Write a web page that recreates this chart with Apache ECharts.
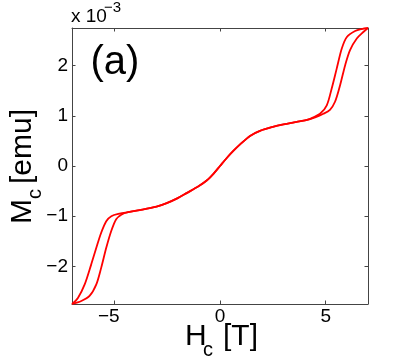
<!DOCTYPE html>
<html>
<head>
<meta charset="utf-8">
<script src="https://cdn.jsdelivr.net/npm/echarts@6/dist/echarts.min.js"></script>
<style>
  html, body { margin: 0; padding: 0; background: #fff; }
  #chart { width: 407px; height: 362px; }
</style>
</head>
<body>
<div id="chart"></div>
<script>
// upper branch (field sweeping down), values in units of 1e-3 emu
const upperH = [-7.0, -6.72, -6.40, -6.09, -5.85, -5.62, -5.38, -5.14, -4.75, -4.35, -3.80, -3.00, -2.52, -2.00, -1.58, -1.00, -0.63, -0.30, 0.00, 0.30, 0.63, 1.00, 1.42, 1.89, 2.50, 3.00, 3.50, 4.02, 4.26, 4.73, 5.05, 5.28, 5.52, 5.76, 6.00, 6.39, 6.70, 7.0]
const upperM = [-2.75, -2.63, -2.36, -1.96, -1.63, -1.33, -1.10, -1.00, -0.95, -0.92, -0.88, -0.81, -0.74, -0.64, -0.54, -0.40, -0.29, -0.15, 0.00, 0.15, 0.30, 0.45, 0.60, 0.70, 0.78, 0.83, 0.87, 0.91, 0.94, 1.04, 1.21, 1.54, 1.94, 2.34, 2.57, 2.69, 2.73, 2.75]
// lower branch (field sweeping up)
const lowerH = [-7.0, -6.56, -6.17, -5.85, -5.62, -5.38, -5.14, -4.91, -4.67, -4.35, -3.80, -3.00, -2.52, -2.00, -1.58, -1.00, -0.63, -0.30, 0.00, 0.30, 0.63, 1.00, 1.42, 1.89, 2.50, 3.00, 3.50, 4.02, 4.50, 4.89, 5.20, 5.44, 5.68, 5.92, 6.15, 6.47, 6.78, 7.0]
const lowerM = [-2.75, -2.69, -2.59, -2.36, -2.03, -1.63, -1.29, -1.06, -0.97, -0.92, -0.88, -0.81, -0.74, -0.64, -0.54, -0.40, -0.29, -0.15, 0.00, 0.15, 0.30, 0.45, 0.60, 0.70, 0.78, 0.83, 0.87, 0.91, 0.97, 1.04, 1.12, 1.28, 1.61, 2.01, 2.31, 2.54, 2.67, 2.75]

const xTicks = [-5, 0, 5]
const yTicks = [-2, -1, 0, 1, 2]

const FONT = 'Liberation Sans'
const axisColor = '#444'

function pairs(xs, ys) {
  return xs.map((x, i) => [x, ys[i]])
}

function axisBase(min, max, ticks) {
  return {
    type: 'value',
    min: min,
    max: max,
    axisLine: { show: true, onZero: false, lineStyle: { color: axisColor, width: 1 } },
    axisTick: { show: true, inside: true, length: 3.5, customValues: ticks, lineStyle: { color: axisColor } },
    splitLine: { show: false }
  }
}

const chart = echarts.init(document.getElementById('chart'))

const xBottom = axisBase(-7, 7, xTicks)
xBottom.position = 'bottom'
xBottom.axisLabel = {
  customValues: xTicks,
  margin: 3,
  color: '#000',
  fontFamily: FONT,
  fontSize: 19,
  // minus hangs to the left like matlab does
  formatter: v => v < 0 ? '\u2212' + (-v) + '{p|}' : String(v),
  rich: { p: { width: 11 } }
}
const xTop = axisBase(-7, 7, xTicks)
xTop.position = 'top'
xTop.axisLabel = { show: false }

const yLeft = axisBase(-2.75, 2.75, yTicks)
yLeft.position = 'left'
yLeft.axisLabel = {
  customValues: yTicks,
  margin: 4,
  color: '#000',
  fontFamily: FONT,
  fontSize: 19,
  formatter: v => String(v).replace('-', '\u2212')
}
const yRight = axisBase(-2.75, 2.75, yTicks)
yRight.position = 'right'
yRight.axisLabel = { show: false }

function txt(text, x, y, size, extra) {
  return Object.assign({
    type: 'text',
    x: x,
    y: y,
    silent: true,
    style: {
      text: text,
      fill: '#000',
      font: size + 'px "' + FONT + '"',
      align: 'left',
      verticalAlign: 'middle'
    }
  }, extra || {})
}

const lineStyle = { color: '#ff0000', width: 1.8 }

chart.setOption({
  animation: false,
  grid: { left: 72, right: 39, top: 28, bottom: 58, containLabel: false },
  xAxis: [xBottom, xTop],
  yAxis: [yLeft, yRight],
  series: [
    {
      type: 'line',
      data: pairs(upperH, upperM),
      showSymbol: false,
      smooth: 0.3,
      lineStyle: lineStyle
    },
    {
      type: 'line',
      data: pairs(lowerH, lowerM),
      showSymbol: false,
      smooth: 0.3,
      lineStyle: lineStyle
    }
  ],
  graphic: [
    txt('(a)', 90.5, 63, 40),
    txt('x 10', 71, 16.3, 19),
    txt('\u22123', 104, 8.1, 15),
    // x label
    txt('H', 185, 336.5, 30),
    txt('c', 203, 350, 20),
    txt('[T]', 223, 336.5, 30),
    // y label, rotated
    txt('M', 22.5, 224, 30, { rotation: Math.PI / 2 }),
    txt('c', 35, 199, 20, { rotation: Math.PI / 2 }),
    txt('[emu]', 22.5, 184, 30, { rotation: Math.PI / 2 })
  ]
})
</script>
</body>
</html>
